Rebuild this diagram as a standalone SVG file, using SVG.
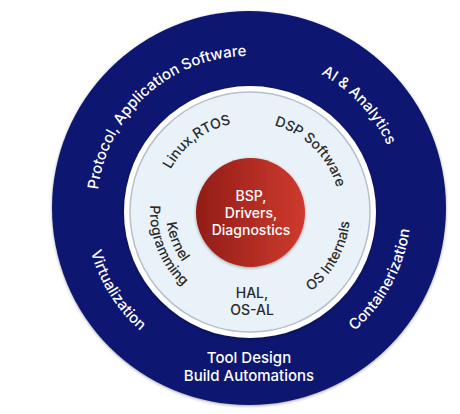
<svg xmlns="http://www.w3.org/2000/svg" width="460" height="414" viewBox="0 0 460 414">
<style>
.out{fill:#ffffff;font-family:Inter,"Noto Sans",sans-serif;font-size:15px;font-weight:500}
.in{fill:#2a2a2a;font-family:Inter,"Noto Sans",sans-serif;font-size:14px;font-weight:500}
.core{fill:#ffffff;font-family:Inter,"Noto Sans",sans-serif;font-size:14px;font-weight:500}
</style>
<defs>
<linearGradient id="red" x1="0" y1="0" x2="1" y2="0">
<stop offset="0" stop-color="#921d17"/>
<stop offset="1" stop-color="#cf3a2e"/>
</linearGradient>
<filter id="sh" x="-20%" y="-20%" width="140%" height="140%">
<feDropShadow dx="0" dy="1" stdDeviation="1.5" flood-color="#000" flood-opacity="0.35"/>
</filter>
<path id="pProt" d="M100.3,239.6 A152,152 0 0,1 296.0,63.4"/>
<path id="pAI" d="M254.3,56.1 A152,152 0 0,1 400.9,213.3"/>
<path id="pCont" d="M281.3,366.7 A162,162 0 0,0 399.7,148.6"/>
<path id="pVirt" d="M93.0,157.3 A164,164 0 0,0 226.2,370.4"/>
<path id="pLinux" d="M160.1,207.3 A90,90 0 0,1 270.2,124.3"/>
<path id="pDSP" d="M242.2,122.3 A90,90 0 0,1 339.7,219.8"/>
<path id="pOS" d="M269.1,310.2 A100,100 0 0,0 343.4,176.2"/>
<path id="pProg" d="M161.7,165.1 A100,100 0 0,0 219.1,307.1"/>
<path id="pKern" d="M175.8,172.6 A84,84 0 0,0 224.0,291.9"/>
</defs>
<rect width="460" height="414" fill="#ffffff"/>
<g id="outer-ring">
<circle cx="249" cy="208" r="197" fill="#0b1870" filter="url(#sh)"/>
<text class="out"><textPath href="#pProt" startOffset="50%" text-anchor="middle">Protocol, Application Software</textPath></text>
<text class="out"><textPath href="#pAI" startOffset="50%" text-anchor="middle">AI &amp; Analytics</textPath></text>
<text class="out"><textPath href="#pCont" startOffset="50%" text-anchor="middle">Containerization</textPath></text>
<text class="out"><textPath href="#pVirt" startOffset="50%" text-anchor="middle">Virtualization</textPath></text>
<text class="out" x="249" y="363" text-anchor="middle">Tool Design</text>
<text class="out" x="249" y="381" text-anchor="middle">Build Automations</text>
</g>
<g id="middle-ring">
<circle cx="250" cy="212" r="126" fill="#ffffff" filter="url(#sh)"/>
<circle cx="250" cy="212" r="120" fill="#e9f1f9" stroke="#b7bfca" stroke-width="1.5"/>
<text class="in"><textPath href="#pLinux" startOffset="50%" text-anchor="middle">Linux,RTOS</textPath></text>
<text class="in"><textPath href="#pDSP" startOffset="50%" text-anchor="middle">DSP Software</textPath></text>
<text class="in"><textPath href="#pOS" startOffset="50%" text-anchor="middle">OS Internals</textPath></text>
<text class="in"><textPath href="#pKern" startOffset="50%" text-anchor="middle">Kernel</textPath></text>
<text class="in"><textPath href="#pProg" startOffset="50%" text-anchor="middle">Programming</textPath></text>
<text class="in" x="252" y="298" text-anchor="middle">HAL,</text>
<text class="in" x="252" y="315" text-anchor="middle">OS-AL</text>
</g>
<g id="core">
<circle cx="250.5" cy="212.5" r="54.5" fill="url(#red)" filter="url(#sh)"/>
<text class="core" x="251" y="201" text-anchor="middle">BSP,</text>
<text class="core" x="251" y="218" text-anchor="middle">Drivers,</text>
<text class="core" x="251" y="235" text-anchor="middle">Diagnostics</text>
</g>
</svg>
